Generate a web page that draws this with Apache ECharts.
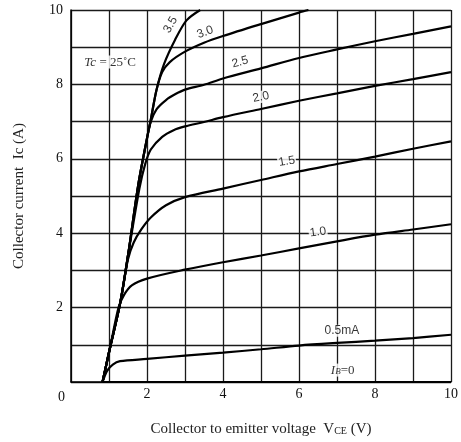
<!DOCTYPE html>
<html><head><meta charset="utf-8">
<script src="https://cdn.jsdelivr.net/npm/echarts@6/dist/echarts.min.js"></script>
<style>html,body{margin:0;padding:0;background:#fff}#c{width:461px;height:442px}</style>
</head><body><div id="c"></div>
<script>
// Collector characteristics, points [Vce (V), Ic (A)]
const ib0  = [[0.83,0],[10,0]];
const ib05 = [[0.83,0],[0.95,0.3],[1.1,0.47],[1.29,0.56],[2,0.62],[3,0.71],[4,0.79],[5,0.88],[6,0.98],[7,1.05],[8,1.11],[9,1.18],[10,1.27]];
const ib10 = [[0.83,0],[1.0,0.78],[1.25,2.0],[1.4,2.35],[1.6,2.6],[2,2.78],[3,3.02],[4,3.22],[5,3.4],[6,3.59],[7,3.78],[8,3.96],[9,4.1],[10,4.24]];
const ib15 = [[0.83,0],[1.0,0.8],[1.29,2.1],[1.5,3.3],[1.65,3.75],[1.85,4.1],[2.1,4.42],[2.5,4.75],[3.0,4.97],[4,5.2],[5,5.43],[6,5.66],[7,5.86],[8,6.06],[9,6.27],[10,6.47]];
const ib20 = [[0.83,0],[1.0,0.8],[1.29,2.1],[1.5,3.4],[1.8,5.2],[1.95,5.85],[2.1,6.25],[2.4,6.59],[2.7,6.77],[3,6.87],[3.5,6.99],[4,7.12],[5,7.34],[6,7.56],[7,7.76],[8,7.96],[9,8.14],[10,8.33]];
const ib25 = [[0.83,0],[1.0,0.8],[1.29,2.1],[1.5,3.4],[1.77,5.3],[2.0,6.55],[2.1,7.0],[2.25,7.33],[2.5,7.58],[2.75,7.74],[3,7.86],[3.5,7.99],[4,8.16],[5,8.43],[6,8.71],[7,8.94],[8,9.16],[9,9.36],[10,9.56]];
const ib30 = [[0.83,0],[1.0,0.8],[1.29,2.1],[1.5,3.4],[1.77,5.3],[2.0,6.55],[2.1,7.05],[2.25,7.85],[2.4,8.33],[2.6,8.6],[3.0,8.88],[3.5,9.12],[4,9.3],[5,9.62],[6,9.93],[6.25,10]];
const ib35 = [[0.83,0],[1.0,0.8],[1.29,2.1],[1.5,3.4],[1.77,5.3],[2.0,6.55],[2.1,7.05],[2.25,7.85],[2.45,8.55],[2.74,9.2],[3.04,9.72],[3.4,10]];
const curves = [ib0, ib05, ib10, ib15, ib20, ib25, ib30, ib35];
const curveLabels = ['{i|I}{s|B}{n|=0}','0.5mA','1.0','1.5','2.0','2.5','3.0','3.5'];
// anchor of each label in data coordinates [Vce, Ic]
const labelAnchors = [[7.15,0.32],[7.13,1.38],[6.5,4.03],[5.68,5.93],[5.0,7.66],[4.45,8.6],[3.53,9.4],[2.62,9.6]];
const labelAngles = [0,0,8,10,12,15,20,60];
const xTicks = ['', '', '2', '', '4', '', '6', '', '8', '', '10'];
const yTicks = ['', '', '2', '', '4', '', '6', '', '8', '', '10'];
const tcText = '{i|Tc}{n| = 25˚C}';
const tcAnchor = [1.03,8.6];

const chart = echarts.init(document.getElementById('c'));
const serif = 'Liberation Serif';
const lineSeries = curves.map(d => ({
  type: 'line', data: d, showSymbol: false, smooth: 0.3,
  lineStyle: {color: '#000', width: 2.2}, z: 3, silent: true
}));
const labelData = labelAnchors.map((p, i) => ({
  value: p,
  label: {formatter: curveLabels[i], rotate: labelAngles[i]}
}));
labelData.push({value: tcAnchor, label: {formatter: tcText, rotate: 0, fontSize: 13}});
chart.setOption({
  animation: false,
  grid: {left: 71, right: 10, top: 10, bottom: 56},
  xAxis: {
    type: 'value', min: 0, max: 10, interval: 1,
    name: 'Collector to emitter voltage  V{s|CE} (V)', nameLocation: 'middle', nameGap: 40,
    nameTextStyle: {fontFamily: serif, fontSize: 15, color: '#222', rich: {s: {fontFamily: serif, fontSize: 10, color: '#222', padding: [4,0,0,0]}}},
    axisLine: {show: true, lineStyle: {color: '#000', width: 1.5}},
    axisTick: {show: false},
    axisLabel: {formatter: (v) => xTicks[Math.round(v)], fontFamily: serif, fontSize: 14, color: '#111', margin: 5},
    splitLine: {show: true, lineStyle: {color: '#1a1a1a', width: 1.3}}
  },
  yAxis: {
    type: 'value', min: 0, max: 10, interval: 1,
    name: 'Collector current  Ic (A)', nameLocation: 'middle', nameGap: 44,
    nameTextStyle: {fontFamily: serif, fontSize: 15, color: '#222'},
    axisLine: {show: true, lineStyle: {color: '#000', width: 1.5}},
    axisTick: {show: false},
    axisLabel: {formatter: (v) => yTicks[Math.round(v)], fontFamily: serif, fontSize: 14, color: '#111', margin: 8},
    splitLine: {show: true, lineStyle: {color: '#1a1a1a', width: 1.3}}
  },
  series: lineSeries.concat([{
    type: 'scatter', symbolSize: 0, data: labelData, z: 5, silent: true,
    label: {
      show: true, position: 'inside', color: '#000',
      fontFamily: 'Liberation Sans', fontSize: 12,
      backgroundColor: '#fff', padding: [0, 1],
      rich: {
        i: {fontFamily: serif, fontStyle: 'italic', fontSize: 13, color: '#000'},
        s: {fontFamily: serif, fontStyle: 'italic', fontSize: 9, color: '#000', padding: [4,0,0,0]},
        n: {fontFamily: serif, fontSize: 13, color: '#000'}
      }
    }
  }]),
  graphic: [{type: 'text', left: 58, top: 390, style: {text: '0', font: '14px "Liberation Serif"', fill: '#111'}}]
});
</script></body></html>
